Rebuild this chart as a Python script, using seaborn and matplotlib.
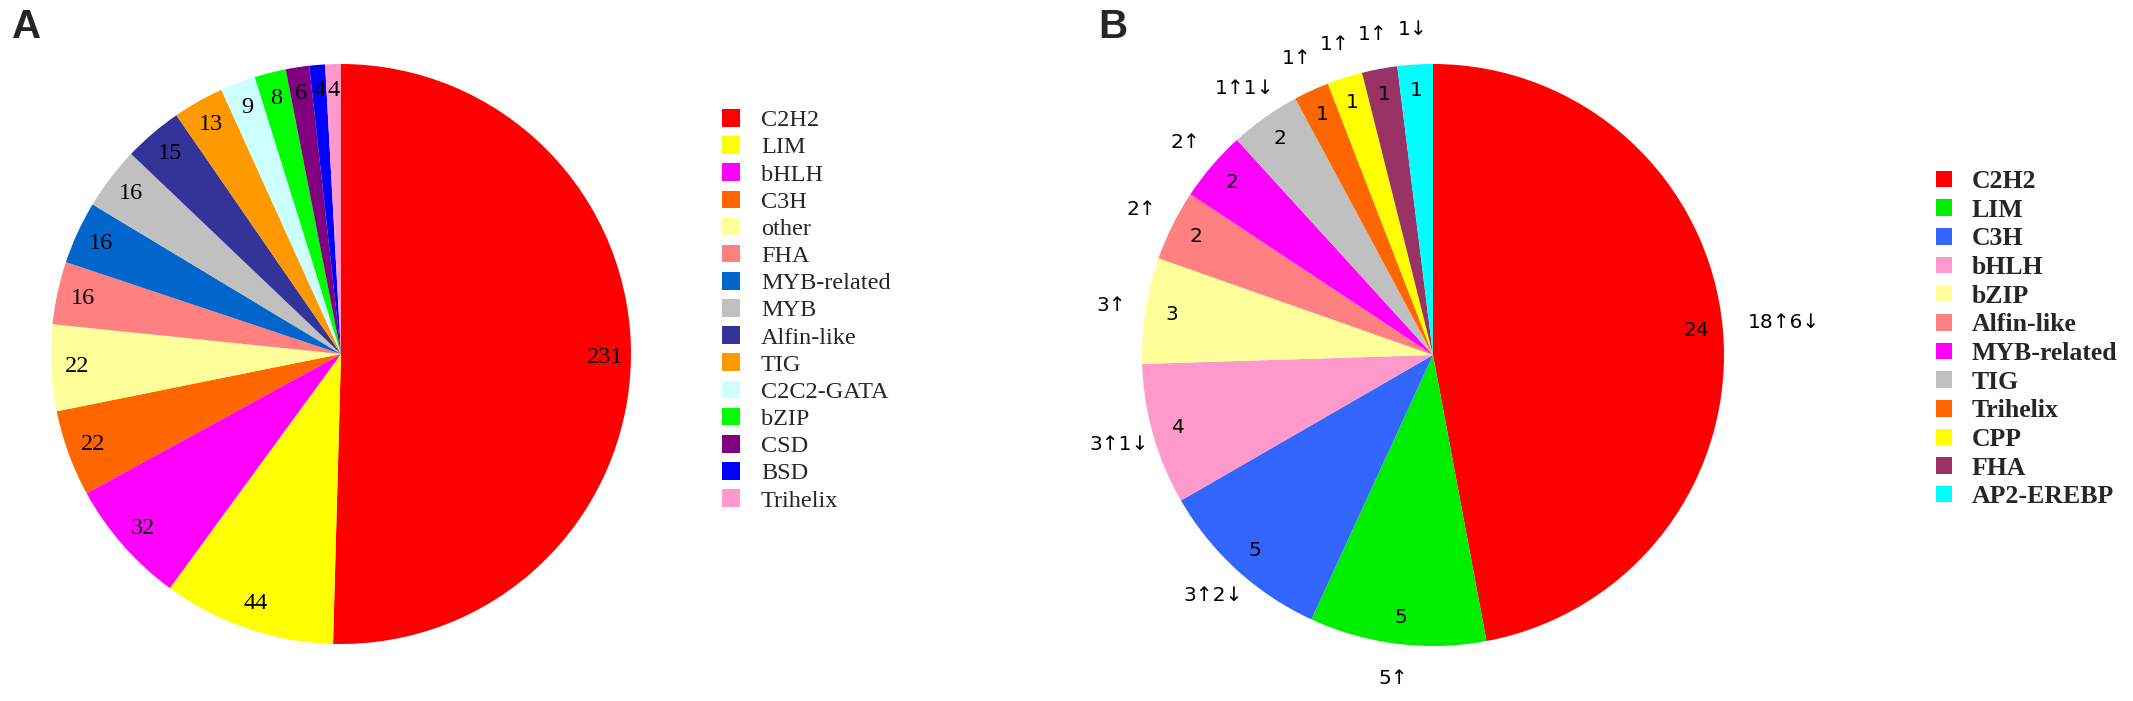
import matplotlib
matplotlib.use("Agg")
import matplotlib.pyplot as plt
import seaborn as sns
import numpy as np

sns.set_style("white")

# Panel A data
a_families = ["C2H2", "LIM", "bHLH", "C3H", "other", "FHA", "MYB-related", "MYB",
              "Alfin-like", "TIG", "C2C2-GATA", "bZIP", "CSD", "BSD", "Trihelix"]
a_counts = [231, 44, 32, 22, 22, 16, 16, 16, 15, 13, 9, 8, 6, 4, 4]
a_colors = ["#FF0000", "#FFFF00", "#FF00FF", "#FF6600", "#FFFF99", "#FF8080", "#0066CC",
            "#C0C0C0", "#333399", "#FF9900", "#CCFFFF", "#00FF00", "#800080", "#0000FF", "#FF99CC"]

# Panel B data
b_families = ["C2H2", "LIM", "C3H", "bHLH", "bZIP", "Alfin-like", "MYB-related", "TIG",
              "Trihelix", "CPP", "FHA", "AP2-EREBP"]
b_counts = [24, 5, 5, 4, 3, 2, 2, 2, 1, 1, 1, 1]
b_updown = ["18\u21916\u2193", "5\u2191", "3\u21912\u2193", "3\u21911\u2193", "3\u2191", "2\u2191",
            "2\u2191", "1\u21911\u2193", "1\u2191", "1\u2191", "1\u2191", "1\u2193"]
b_colors = ["#FF0000", "#00EE00", "#3366FF", "#FF99CC", "#FFFF99", "#FF8080", "#FF00FF",
            "#C0C0C0", "#FF6600", "#FFFF00", "#993366", "#00FFFF"]

W, H = 2133, 701
fig = plt.figure(figsize=(W / 100, H / 100), dpi=100)


def pie_axes(cx, cy, r):
    return fig.add_axes([(cx - r) / W, (H - cy - r) / H, 2 * r / W, 2 * r / H])


def mid_xy(w, rad):
    ang = np.deg2rad((w.theta1 + w.theta2) / 2)
    return rad * np.cos(ang), rad * np.sin(ang)


# ---------- Panel A ----------
axA = pie_axes(341, 354, 290)
wa, _ = axA.pie(a_counts, colors=sns.color_palette(a_colors), startangle=90,
                counterclock=False, wedgeprops=dict(linewidth=0))
for w, v in zip(wa, a_counts):
    x, y = mid_xy(w, 0.91)
    axA.text(x, y, str(v), ha="center", va="center", fontsize=17.5,
             family="Liberation Serif", color="black")
axA.set_xlim(-1, 1)
axA.set_ylim(-1, 1)
axA.axis("off")

fig.legend(wa, a_families, loc="upper left", bbox_to_anchor=(722 / W, 1 - 109 / H),
           frameon=False, borderpad=0, borderaxespad=0,
           prop=dict(family="Liberation Serif", size=17.5),
           handlelength=0.74, handleheight=0.74, handletextpad=0.86, labelspacing=0.2)

fig.text(12 / W, 1 - 8 / H, "A", ha="left", va="top", fontsize=29, fontweight="bold",
         family="Liberation Sans")

# ---------- Panel B ----------
axB = pie_axes(1433, 355, 291)
wb, _ = axB.pie(b_counts, colors=sns.color_palette(b_colors), startangle=90,
                counterclock=False, wedgeprops=dict(linewidth=0))
for i, (w, v, ud) in enumerate(zip(wb, b_counts, b_updown)):
    x, y = mid_xy(w, 0.91)
    axB.text(x, y, str(v), ha="center", va="center", fontsize=14.5,
             family="DejaVu Sans", color="black")
    rad = 1.21 if i == 0 else 1.12
    x, y = mid_xy(w, rad)
    axB.text(x, y, ud, ha="center", va="center", fontsize=14.5,
             family="DejaVu Sans", color="black")
axB.set_xlim(-1, 1)
axB.set_ylim(-1, 1)
axB.axis("off")

fig.legend(wb, b_families, loc="upper left", bbox_to_anchor=(1936 / W, 1 - 170 / H),
           frameon=False, borderpad=0, borderaxespad=0,
           prop=dict(family="Liberation Serif", size=18.5, weight="bold"),
           handlelength=0.62, handleheight=0.62, handletextpad=0.78, labelspacing=0.22)

fig.text(1098 / W, 1 - 8 / H, "B", ha="left", va="top", fontsize=29, fontweight="bold",
         family="Liberation Sans")

fig.savefig("out.png", dpi=100, facecolor="white")
